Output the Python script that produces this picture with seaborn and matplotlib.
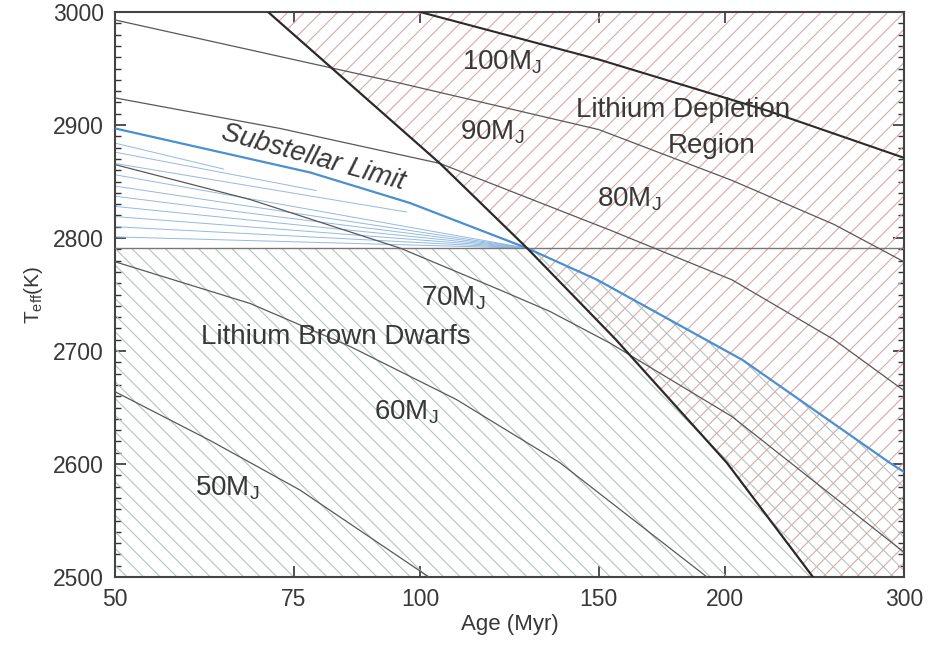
import numpy as np
import pandas as pd
import matplotlib
matplotlib.use("Agg")
import matplotlib.pyplot as plt
import seaborn as sns
from matplotlib.ticker import FixedLocator, NullLocator, MultipleLocator, FixedFormatter

# ---------------- data ----------------
age_ticks = [50, 75, 100, 150, 200, 300]
teff_ticks = [2500, 2600, 2700, 2800, 2900, 3000]

# isomass tracks (Age in Myr, Teff in K)
m100_age = [100, 150, 219.6, 300]
m100_teff = [3000, 2958, 2913, 2871]
m90_age = [50, 95.6, 150, 203, 256, 300]
m90_teff = [2993, 2937, 2896, 2851, 2812, 2779]
m80_age = [50, 72.7, 104.6, 153.9, 203, 256, 300]
m80_teff = [2924, 2897, 2866, 2807, 2763, 2710, 2665]
m70_age = [50, 68, 95.6, 119.9, 134.3, 153.9, 203, 300]
m70_teff = [2865, 2834, 2791, 2754, 2735, 2707, 2642, 2522]
m60_age = [50, 68, 85.3, 108.6, 137.4, 191.8]
m60_teff = [2779, 2742, 2704, 2657, 2601, 2500]
m50_age = [50, 62, 76.1, 102]
m50_teff = [2664, 2621, 2577, 2500]

# substellar limit
limit_age = [50, 77.9, 97.7, 127.5, 149.5, 208, 290.6, 300]
limit_teff = [2897, 2858, 2831, 2791, 2763, 2692, 2601, 2593]

# lithium depletion boundary
ldb_age = [70.8, 104.6, 127.5, 156, 200.7, 244]
ldb_teff = [3000, 2866, 2791, 2710, 2601, 2500]

# Teff where substellar limit meets depletion boundary
t_cross = 2791
age_cross = 127.5

# blue fan lines between substellar limit and the horizontal line
fan_start_teff = [2884, 2876, 2866, 2856, 2846, 2837, 2828, 2819, 2810, 2801]
fan_end_age = [64, 79, 97, 127.5, 127.5, 127.5, 127.5, 127.5, 127.5, 127.5]
fan_end_teff = [2861, 2842, 2823, 2791, 2791, 2791, 2791, 2791, 2791, 2791]

track_labels = ["100M$_\\mathregular{J}$", "90M$_\\mathregular{J}$", "80M$_\\mathregular{J}$",
                "70M$_\\mathregular{J}$", "60M$_\\mathregular{J}$", "50M$_\\mathregular{J}$"]
label_age = [120.4, 117.7, 160.8, 107.7, 96.9, 64.6]
label_teff = [2956, 2894, 2834, 2747, 2646, 2579]

# ---------------- plotting ----------------
sns.set_style("ticks")
plt.rcParams['font.family'] = ['Liberation Sans', 'DejaVu Sans']
plt.rcParams['mathtext.fontset'] = 'custom'
plt.rcParams['mathtext.rm'] = 'Liberation Sans'
plt.rcParams['hatch.linewidth'] = 0.8

fig = plt.figure(figsize=(9.37, 6.5), dpi=100)
ax = fig.add_axes([0.1227, 0.1123, 0.842, 0.8692])
ax.set_xscale("log")
ax.set_xlim(50, 300)
ax.set_ylim(2500, 3000)

txt = "#383838"
red_h = "#dba8a8"
green_h = "#b5c4be"
blue = "#4b8fd0"

# red hatch: lithium depletion region (right of boundary)
ax.fill_betweenx(ldb_teff, ldb_age, 300, facecolor="none", edgecolor=red_h,
                 linewidth=0, hatch="//", zorder=1)

# green hatch: below horizontal line left of crossing, below limit right of it
reg_age = [50, age_cross] + [a for a in limit_age if a > age_cross]
reg_top = [t_cross, t_cross] + [t for a, t in zip(limit_age, limit_teff) if a > age_cross]
ax.fill_between(reg_age, 2500, reg_top, facecolor="none", edgecolor=green_h,
                linewidth=0, hatch="\\\\", zorder=1)

# blue fan
for t0, a1, t1 in zip(fan_start_teff, fan_end_age, fan_end_teff):
    sns.lineplot(x=[50, a1], y=[t0, t1], ax=ax, color="#93b9e2", lw=0.7,
                 estimator=None, sort=False, zorder=2)

# horizontal line
ax.axhline(t_cross, color="#777777", lw=1.0, zorder=3)

tracks = [(m90_age, m90_teff), (m80_age, m80_teff), (m70_age, m70_teff),
          (m60_age, m60_teff), (m50_age, m50_teff)]
for a, t in tracks:
    sns.lineplot(x=a, y=t, ax=ax, color="#585858", lw=0.9, estimator=None,
                 sort=False, zorder=3)
sns.lineplot(x=m100_age, y=m100_teff, ax=ax, color="#2a2a2a", lw=1.5,
             estimator=None, sort=False, zorder=3)

sns.lineplot(x=limit_age, y=limit_teff, ax=ax, color=blue, lw=1.6,
             estimator=None, sort=False, zorder=4)
sns.lineplot(x=ldb_age, y=ldb_teff, ax=ax, color="#2a2a2a", lw=1.6,
             estimator=None, sort=False, zorder=4)

# labels
fs = 20
for s, a, t in zip(track_labels, label_age, label_teff):
    ax.text(a, t, s, fontsize=fs, color=txt, ha="center", va="center", zorder=5)
ax.text(181.5, 2913, "Lithium Depletion", fontsize=fs, color=txt,
        ha="center", va="center", zorder=5)
ax.text(194, 2881, "Region", fontsize=fs, color=txt,
        ha="center", va="center", zorder=5)
ax.text(78.4, 2871, "Substellar Limit", fontsize=fs, color=txt,
        ha="center", va="center", rotation=-15.5, style="italic", zorder=5)
ax.text(82.6, 2712, "Lithium Brown Dwarfs", fontsize=fs, color=txt,
        ha="center", va="center", zorder=5)

# axes styling
ax.xaxis.set_major_locator(FixedLocator(age_ticks))
ax.xaxis.set_major_formatter(FixedFormatter([str(v) for v in age_ticks]))
ax.xaxis.set_minor_locator(NullLocator())
ax.yaxis.set_major_locator(FixedLocator(teff_ticks))
ax.yaxis.set_minor_locator(MultipleLocator(10))
ax.tick_params(axis="both", which="both", direction="in", top=True, right=True,
               colors="#333333", labelcolor=txt, labelsize=16.5)
ax.tick_params(axis="both", which="major", length=8, width=1.2, pad=8)
ax.tick_params(axis="y", which="minor", length=4, width=1.0)
for sp in ax.spines.values():
    sp.set_color("#444444")
    sp.set_linewidth(1.5)
ax.set_xlabel("Age (Myr)", fontsize=16, color=txt, labelpad=2)
ax.set_ylabel(r"T$_\mathregular{eff}$(K)", fontsize=15, color=txt, labelpad=6)

fig.savefig("out.png", dpi=100)
